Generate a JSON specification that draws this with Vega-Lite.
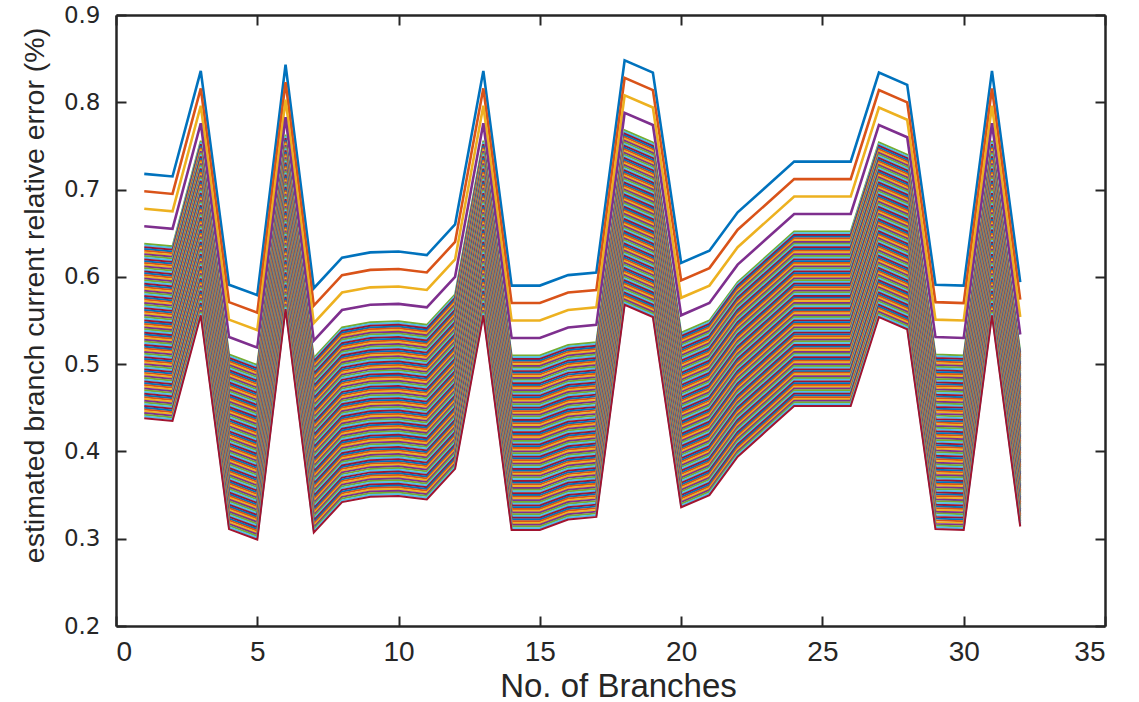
{
  "$schema": "https://vega.github.io/schema/vega-lite/v6.json",
  "width": 989,
  "height": 611,
  "autosize": {"type": "none"},
  "padding": {"left": 116, "top": 15, "right": 34, "bottom": 76},
  "background": "white",
  "config": {
    "view": {"stroke": null},
    "axis": {"grid": false, "domainColor": "#262626", "domainWidth": 2.5, "tickColor": "#262626", "tickWidth": 2, "labelColor": "#262626", "titleColor": "#262626", "titleFontWeight": "normal"}
  },
  "layer": [
    {
      "data": {"values": [
        {"k":0,"x":[1,2,3,4,5,6,7,8,9,10,11,12,13,14,15,16,17,18,19,20,21,22,23,24,25,26,27,28,29,30,31,32],"y":[0.718,0.715,0.836,0.591,0.579,0.843,0.587,0.622,0.628,0.629,0.625,0.660,0.836,0.590,0.590,0.602,0.605,0.848,0.834,0.616,0.630,0.674,0.703,0.732,0.732,0.732,0.834,0.820,0.591,0.590,0.836,0.594]},
        {"k":1,"x":[1,2,3,4,5,6,7,8,9,10,11,12,13,14,15,16,17,18,19,20,21,22,23,24,25,26,27,28,29,30,31,32],"y":[0.698,0.695,0.816,0.571,0.559,0.823,0.567,0.602,0.608,0.609,0.605,0.640,0.816,0.570,0.570,0.582,0.585,0.828,0.814,0.596,0.610,0.654,0.683,0.712,0.712,0.712,0.814,0.800,0.571,0.570,0.816,0.574]},
        {"k":2,"x":[1,2,3,4,5,6,7,8,9,10,11,12,13,14,15,16,17,18,19,20,21,22,23,24,25,26,27,28,29,30,31,32],"y":[0.678,0.675,0.796,0.551,0.539,0.803,0.547,0.582,0.588,0.589,0.585,0.620,0.796,0.550,0.550,0.562,0.565,0.808,0.794,0.576,0.590,0.634,0.663,0.692,0.692,0.692,0.794,0.780,0.551,0.550,0.796,0.554]},
        {"k":3,"x":[1,2,3,4,5,6,7,8,9,10,11,12,13,14,15,16,17,18,19,20,21,22,23,24,25,26,27,28,29,30,31,32],"y":[0.658,0.655,0.776,0.531,0.519,0.783,0.527,0.562,0.568,0.569,0.565,0.600,0.776,0.530,0.530,0.542,0.545,0.788,0.774,0.556,0.570,0.614,0.643,0.672,0.672,0.672,0.774,0.760,0.531,0.530,0.776,0.534]},
        {"k":4,"x":[1,2,3,4,5,6,7,8,9,10,11,12,13,14,15,16,17,18,19,20,21,22,23,24,25,26,27,28,29,30,31,32],"y":[0.638,0.635,0.756,0.511,0.499,0.763,0.507,0.542,0.548,0.549,0.545,0.580,0.756,0.510,0.510,0.522,0.525,0.768,0.754,0.536,0.550,0.594,0.623,0.652,0.652,0.652,0.754,0.740,0.511,0.510,0.756,0.514]},
        {"k":5,"x":[1,2,3,4,5,6,7,8,9,10,11,12,13,14,15,16,17,18,19,20,21,22,23,24,25,26,27,28,29,30,31,32],"y":[0.636,0.633,0.754,0.509,0.497,0.761,0.505,0.540,0.546,0.547,0.543,0.578,0.754,0.508,0.508,0.520,0.523,0.766,0.752,0.534,0.548,0.592,0.621,0.650,0.650,0.650,0.752,0.738,0.509,0.508,0.754,0.512]},
        {"k":6,"x":[1,2,3,4,5,6,7,8,9,10,11,12,13,14,15,16,17,18,19,20,21,22,23,24,25,26,27,28,29,30,31,32],"y":[0.634,0.631,0.752,0.507,0.495,0.759,0.503,0.538,0.544,0.545,0.541,0.576,0.752,0.506,0.506,0.518,0.521,0.764,0.750,0.532,0.546,0.590,0.619,0.648,0.648,0.648,0.750,0.736,0.507,0.506,0.752,0.510]},
        {"k":7,"x":[1,2,3,4,5,6,7,8,9,10,11,12,13,14,15,16,17,18,19,20,21,22,23,24,25,26,27,28,29,30,31,32],"y":[0.632,0.629,0.750,0.505,0.493,0.757,0.501,0.536,0.542,0.543,0.539,0.574,0.750,0.504,0.504,0.516,0.519,0.762,0.748,0.530,0.544,0.588,0.617,0.646,0.646,0.646,0.748,0.734,0.505,0.504,0.750,0.508]},
        {"k":8,"x":[1,2,3,4,5,6,7,8,9,10,11,12,13,14,15,16,17,18,19,20,21,22,23,24,25,26,27,28,29,30,31,32],"y":[0.630,0.627,0.748,0.503,0.491,0.755,0.499,0.534,0.540,0.541,0.537,0.572,0.748,0.502,0.502,0.514,0.517,0.760,0.746,0.528,0.542,0.586,0.615,0.644,0.644,0.644,0.746,0.732,0.503,0.502,0.748,0.506]},
        {"k":9,"x":[1,2,3,4,5,6,7,8,9,10,11,12,13,14,15,16,17,18,19,20,21,22,23,24,25,26,27,28,29,30,31,32],"y":[0.628,0.625,0.746,0.501,0.489,0.753,0.497,0.532,0.538,0.539,0.535,0.570,0.746,0.500,0.500,0.512,0.515,0.758,0.744,0.526,0.540,0.584,0.613,0.642,0.642,0.642,0.744,0.730,0.501,0.500,0.746,0.504]},
        {"k":10,"x":[1,2,3,4,5,6,7,8,9,10,11,12,13,14,15,16,17,18,19,20,21,22,23,24,25,26,27,28,29,30,31,32],"y":[0.626,0.623,0.744,0.499,0.487,0.751,0.495,0.530,0.536,0.537,0.533,0.568,0.744,0.498,0.498,0.510,0.513,0.756,0.742,0.524,0.538,0.582,0.611,0.640,0.640,0.640,0.742,0.728,0.499,0.498,0.744,0.502]},
        {"k":11,"x":[1,2,3,4,5,6,7,8,9,10,11,12,13,14,15,16,17,18,19,20,21,22,23,24,25,26,27,28,29,30,31,32],"y":[0.624,0.621,0.742,0.497,0.485,0.749,0.493,0.528,0.534,0.535,0.531,0.566,0.742,0.496,0.496,0.508,0.511,0.754,0.740,0.522,0.536,0.580,0.609,0.638,0.638,0.638,0.740,0.726,0.497,0.496,0.742,0.500]},
        {"k":12,"x":[1,2,3,4,5,6,7,8,9,10,11,12,13,14,15,16,17,18,19,20,21,22,23,24,25,26,27,28,29,30,31,32],"y":[0.622,0.619,0.740,0.495,0.483,0.747,0.491,0.526,0.532,0.533,0.529,0.564,0.740,0.494,0.494,0.506,0.509,0.752,0.738,0.520,0.534,0.578,0.607,0.636,0.636,0.636,0.738,0.724,0.495,0.494,0.740,0.498]},
        {"k":13,"x":[1,2,3,4,5,6,7,8,9,10,11,12,13,14,15,16,17,18,19,20,21,22,23,24,25,26,27,28,29,30,31,32],"y":[0.620,0.617,0.738,0.493,0.481,0.745,0.489,0.524,0.530,0.531,0.527,0.562,0.738,0.492,0.492,0.504,0.507,0.750,0.736,0.518,0.532,0.576,0.605,0.634,0.634,0.634,0.736,0.722,0.493,0.492,0.738,0.496]},
        {"k":14,"x":[1,2,3,4,5,6,7,8,9,10,11,12,13,14,15,16,17,18,19,20,21,22,23,24,25,26,27,28,29,30,31,32],"y":[0.618,0.615,0.736,0.491,0.479,0.743,0.487,0.522,0.528,0.529,0.525,0.560,0.736,0.490,0.490,0.502,0.505,0.748,0.734,0.516,0.530,0.574,0.603,0.632,0.632,0.632,0.734,0.720,0.491,0.490,0.736,0.494]},
        {"k":15,"x":[1,2,3,4,5,6,7,8,9,10,11,12,13,14,15,16,17,18,19,20,21,22,23,24,25,26,27,28,29,30,31,32],"y":[0.616,0.613,0.734,0.489,0.477,0.741,0.485,0.520,0.526,0.527,0.523,0.558,0.734,0.488,0.488,0.500,0.503,0.746,0.732,0.514,0.528,0.572,0.601,0.630,0.630,0.630,0.732,0.718,0.489,0.488,0.734,0.492]},
        {"k":16,"x":[1,2,3,4,5,6,7,8,9,10,11,12,13,14,15,16,17,18,19,20,21,22,23,24,25,26,27,28,29,30,31,32],"y":[0.614,0.611,0.732,0.487,0.475,0.739,0.483,0.518,0.524,0.525,0.521,0.556,0.732,0.486,0.486,0.498,0.501,0.744,0.730,0.512,0.526,0.570,0.599,0.628,0.628,0.628,0.730,0.716,0.487,0.486,0.732,0.490]},
        {"k":17,"x":[1,2,3,4,5,6,7,8,9,10,11,12,13,14,15,16,17,18,19,20,21,22,23,24,25,26,27,28,29,30,31,32],"y":[0.612,0.609,0.730,0.485,0.473,0.737,0.481,0.516,0.522,0.523,0.519,0.554,0.730,0.484,0.484,0.496,0.499,0.742,0.728,0.510,0.524,0.568,0.597,0.626,0.626,0.626,0.728,0.714,0.485,0.484,0.730,0.488]},
        {"k":18,"x":[1,2,3,4,5,6,7,8,9,10,11,12,13,14,15,16,17,18,19,20,21,22,23,24,25,26,27,28,29,30,31,32],"y":[0.610,0.607,0.728,0.483,0.471,0.735,0.479,0.514,0.520,0.521,0.517,0.552,0.728,0.482,0.482,0.494,0.497,0.740,0.726,0.508,0.522,0.566,0.595,0.624,0.624,0.624,0.726,0.712,0.483,0.482,0.728,0.486]},
        {"k":19,"x":[1,2,3,4,5,6,7,8,9,10,11,12,13,14,15,16,17,18,19,20,21,22,23,24,25,26,27,28,29,30,31,32],"y":[0.608,0.605,0.726,0.481,0.469,0.733,0.477,0.512,0.518,0.519,0.515,0.550,0.726,0.480,0.480,0.492,0.495,0.738,0.724,0.506,0.520,0.564,0.593,0.622,0.622,0.622,0.724,0.710,0.481,0.480,0.726,0.484]},
        {"k":20,"x":[1,2,3,4,5,6,7,8,9,10,11,12,13,14,15,16,17,18,19,20,21,22,23,24,25,26,27,28,29,30,31,32],"y":[0.606,0.603,0.724,0.479,0.467,0.731,0.475,0.510,0.516,0.517,0.513,0.548,0.724,0.478,0.478,0.490,0.493,0.736,0.722,0.504,0.518,0.562,0.591,0.620,0.620,0.620,0.722,0.708,0.479,0.478,0.724,0.482]},
        {"k":21,"x":[1,2,3,4,5,6,7,8,9,10,11,12,13,14,15,16,17,18,19,20,21,22,23,24,25,26,27,28,29,30,31,32],"y":[0.604,0.601,0.722,0.477,0.465,0.729,0.473,0.508,0.514,0.515,0.511,0.546,0.722,0.476,0.476,0.488,0.491,0.734,0.720,0.502,0.516,0.560,0.589,0.618,0.618,0.618,0.720,0.706,0.477,0.476,0.722,0.480]},
        {"k":22,"x":[1,2,3,4,5,6,7,8,9,10,11,12,13,14,15,16,17,18,19,20,21,22,23,24,25,26,27,28,29,30,31,32],"y":[0.602,0.599,0.720,0.475,0.463,0.727,0.471,0.506,0.512,0.513,0.509,0.544,0.720,0.474,0.474,0.486,0.489,0.732,0.718,0.500,0.514,0.558,0.587,0.616,0.616,0.616,0.718,0.704,0.475,0.474,0.720,0.478]},
        {"k":23,"x":[1,2,3,4,5,6,7,8,9,10,11,12,13,14,15,16,17,18,19,20,21,22,23,24,25,26,27,28,29,30,31,32],"y":[0.600,0.597,0.718,0.473,0.461,0.725,0.469,0.504,0.510,0.511,0.507,0.542,0.718,0.472,0.472,0.484,0.487,0.730,0.716,0.498,0.512,0.556,0.585,0.614,0.614,0.614,0.716,0.702,0.473,0.472,0.718,0.476]},
        {"k":24,"x":[1,2,3,4,5,6,7,8,9,10,11,12,13,14,15,16,17,18,19,20,21,22,23,24,25,26,27,28,29,30,31,32],"y":[0.598,0.595,0.716,0.471,0.459,0.723,0.467,0.502,0.508,0.509,0.505,0.540,0.716,0.470,0.470,0.482,0.485,0.728,0.714,0.496,0.510,0.554,0.583,0.612,0.612,0.612,0.714,0.700,0.471,0.470,0.716,0.474]},
        {"k":25,"x":[1,2,3,4,5,6,7,8,9,10,11,12,13,14,15,16,17,18,19,20,21,22,23,24,25,26,27,28,29,30,31,32],"y":[0.596,0.593,0.714,0.469,0.457,0.721,0.465,0.500,0.506,0.507,0.503,0.538,0.714,0.468,0.468,0.480,0.483,0.726,0.712,0.494,0.508,0.552,0.581,0.610,0.610,0.610,0.712,0.698,0.469,0.468,0.714,0.472]},
        {"k":26,"x":[1,2,3,4,5,6,7,8,9,10,11,12,13,14,15,16,17,18,19,20,21,22,23,24,25,26,27,28,29,30,31,32],"y":[0.594,0.591,0.712,0.467,0.455,0.719,0.463,0.498,0.504,0.505,0.501,0.536,0.712,0.466,0.466,0.478,0.481,0.724,0.710,0.492,0.506,0.550,0.579,0.608,0.608,0.608,0.710,0.696,0.467,0.466,0.712,0.470]},
        {"k":27,"x":[1,2,3,4,5,6,7,8,9,10,11,12,13,14,15,16,17,18,19,20,21,22,23,24,25,26,27,28,29,30,31,32],"y":[0.592,0.589,0.710,0.465,0.453,0.717,0.461,0.496,0.502,0.503,0.499,0.534,0.710,0.464,0.464,0.476,0.479,0.722,0.708,0.490,0.504,0.548,0.577,0.606,0.606,0.606,0.708,0.694,0.465,0.464,0.710,0.468]},
        {"k":28,"x":[1,2,3,4,5,6,7,8,9,10,11,12,13,14,15,16,17,18,19,20,21,22,23,24,25,26,27,28,29,30,31,32],"y":[0.590,0.587,0.708,0.463,0.451,0.715,0.459,0.494,0.500,0.501,0.497,0.532,0.708,0.462,0.462,0.474,0.477,0.720,0.706,0.488,0.502,0.546,0.575,0.604,0.604,0.604,0.706,0.692,0.463,0.462,0.708,0.466]},
        {"k":29,"x":[1,2,3,4,5,6,7,8,9,10,11,12,13,14,15,16,17,18,19,20,21,22,23,24,25,26,27,28,29,30,31,32],"y":[0.588,0.585,0.706,0.461,0.449,0.713,0.457,0.492,0.498,0.499,0.495,0.530,0.706,0.460,0.460,0.472,0.475,0.718,0.704,0.486,0.500,0.544,0.573,0.602,0.602,0.602,0.704,0.690,0.461,0.460,0.706,0.464]},
        {"k":30,"x":[1,2,3,4,5,6,7,8,9,10,11,12,13,14,15,16,17,18,19,20,21,22,23,24,25,26,27,28,29,30,31,32],"y":[0.586,0.583,0.704,0.459,0.447,0.711,0.455,0.490,0.496,0.497,0.493,0.528,0.704,0.458,0.458,0.470,0.473,0.716,0.702,0.484,0.498,0.542,0.571,0.600,0.600,0.600,0.702,0.688,0.459,0.458,0.704,0.462]},
        {"k":31,"x":[1,2,3,4,5,6,7,8,9,10,11,12,13,14,15,16,17,18,19,20,21,22,23,24,25,26,27,28,29,30,31,32],"y":[0.584,0.581,0.702,0.457,0.445,0.709,0.453,0.488,0.494,0.495,0.491,0.526,0.702,0.456,0.456,0.468,0.471,0.714,0.700,0.482,0.496,0.540,0.569,0.598,0.598,0.598,0.700,0.686,0.457,0.456,0.702,0.460]},
        {"k":32,"x":[1,2,3,4,5,6,7,8,9,10,11,12,13,14,15,16,17,18,19,20,21,22,23,24,25,26,27,28,29,30,31,32],"y":[0.582,0.579,0.700,0.455,0.443,0.707,0.451,0.486,0.492,0.493,0.489,0.524,0.700,0.454,0.454,0.466,0.469,0.712,0.698,0.480,0.494,0.538,0.567,0.596,0.596,0.596,0.698,0.684,0.455,0.454,0.700,0.458]},
        {"k":33,"x":[1,2,3,4,5,6,7,8,9,10,11,12,13,14,15,16,17,18,19,20,21,22,23,24,25,26,27,28,29,30,31,32],"y":[0.580,0.577,0.698,0.453,0.441,0.705,0.449,0.484,0.490,0.491,0.487,0.522,0.698,0.452,0.452,0.464,0.467,0.710,0.696,0.478,0.492,0.536,0.565,0.594,0.594,0.594,0.696,0.682,0.453,0.452,0.698,0.456]},
        {"k":34,"x":[1,2,3,4,5,6,7,8,9,10,11,12,13,14,15,16,17,18,19,20,21,22,23,24,25,26,27,28,29,30,31,32],"y":[0.578,0.575,0.696,0.451,0.439,0.703,0.447,0.482,0.488,0.489,0.485,0.520,0.696,0.450,0.450,0.462,0.465,0.708,0.694,0.476,0.490,0.534,0.563,0.592,0.592,0.592,0.694,0.680,0.451,0.450,0.696,0.454]},
        {"k":35,"x":[1,2,3,4,5,6,7,8,9,10,11,12,13,14,15,16,17,18,19,20,21,22,23,24,25,26,27,28,29,30,31,32],"y":[0.576,0.573,0.694,0.449,0.437,0.701,0.445,0.480,0.486,0.487,0.483,0.518,0.694,0.448,0.448,0.460,0.463,0.706,0.692,0.474,0.488,0.532,0.561,0.590,0.590,0.590,0.692,0.678,0.449,0.448,0.694,0.452]},
        {"k":36,"x":[1,2,3,4,5,6,7,8,9,10,11,12,13,14,15,16,17,18,19,20,21,22,23,24,25,26,27,28,29,30,31,32],"y":[0.574,0.571,0.692,0.447,0.435,0.699,0.443,0.478,0.484,0.485,0.481,0.516,0.692,0.446,0.446,0.458,0.461,0.704,0.690,0.472,0.486,0.530,0.559,0.588,0.588,0.588,0.690,0.676,0.447,0.446,0.692,0.450]},
        {"k":37,"x":[1,2,3,4,5,6,7,8,9,10,11,12,13,14,15,16,17,18,19,20,21,22,23,24,25,26,27,28,29,30,31,32],"y":[0.572,0.569,0.690,0.445,0.433,0.697,0.441,0.476,0.482,0.483,0.479,0.514,0.690,0.444,0.444,0.456,0.459,0.702,0.688,0.470,0.484,0.528,0.557,0.586,0.586,0.586,0.688,0.674,0.445,0.444,0.690,0.448]},
        {"k":38,"x":[1,2,3,4,5,6,7,8,9,10,11,12,13,14,15,16,17,18,19,20,21,22,23,24,25,26,27,28,29,30,31,32],"y":[0.570,0.567,0.688,0.443,0.431,0.695,0.439,0.474,0.480,0.481,0.477,0.512,0.688,0.442,0.442,0.454,0.457,0.700,0.686,0.468,0.482,0.526,0.555,0.584,0.584,0.584,0.686,0.672,0.443,0.442,0.688,0.446]},
        {"k":39,"x":[1,2,3,4,5,6,7,8,9,10,11,12,13,14,15,16,17,18,19,20,21,22,23,24,25,26,27,28,29,30,31,32],"y":[0.568,0.565,0.686,0.441,0.429,0.693,0.437,0.472,0.478,0.479,0.475,0.510,0.686,0.440,0.440,0.452,0.455,0.698,0.684,0.466,0.480,0.524,0.553,0.582,0.582,0.582,0.684,0.670,0.441,0.440,0.686,0.444]},
        {"k":40,"x":[1,2,3,4,5,6,7,8,9,10,11,12,13,14,15,16,17,18,19,20,21,22,23,24,25,26,27,28,29,30,31,32],"y":[0.566,0.563,0.684,0.439,0.427,0.691,0.435,0.470,0.476,0.477,0.473,0.508,0.684,0.438,0.438,0.450,0.453,0.696,0.682,0.464,0.478,0.522,0.551,0.580,0.580,0.580,0.682,0.668,0.439,0.438,0.684,0.442]},
        {"k":41,"x":[1,2,3,4,5,6,7,8,9,10,11,12,13,14,15,16,17,18,19,20,21,22,23,24,25,26,27,28,29,30,31,32],"y":[0.564,0.561,0.682,0.437,0.425,0.689,0.433,0.468,0.474,0.475,0.471,0.506,0.682,0.436,0.436,0.448,0.451,0.694,0.680,0.462,0.476,0.520,0.549,0.578,0.578,0.578,0.680,0.666,0.437,0.436,0.682,0.440]},
        {"k":42,"x":[1,2,3,4,5,6,7,8,9,10,11,12,13,14,15,16,17,18,19,20,21,22,23,24,25,26,27,28,29,30,31,32],"y":[0.562,0.559,0.680,0.435,0.423,0.687,0.431,0.466,0.472,0.473,0.469,0.504,0.680,0.434,0.434,0.446,0.449,0.692,0.678,0.460,0.474,0.518,0.547,0.576,0.576,0.576,0.678,0.664,0.435,0.434,0.680,0.438]},
        {"k":43,"x":[1,2,3,4,5,6,7,8,9,10,11,12,13,14,15,16,17,18,19,20,21,22,23,24,25,26,27,28,29,30,31,32],"y":[0.560,0.557,0.678,0.433,0.421,0.685,0.429,0.464,0.470,0.471,0.467,0.502,0.678,0.432,0.432,0.444,0.447,0.690,0.676,0.458,0.472,0.516,0.545,0.574,0.574,0.574,0.676,0.662,0.433,0.432,0.678,0.436]},
        {"k":44,"x":[1,2,3,4,5,6,7,8,9,10,11,12,13,14,15,16,17,18,19,20,21,22,23,24,25,26,27,28,29,30,31,32],"y":[0.558,0.555,0.676,0.431,0.419,0.683,0.427,0.462,0.468,0.469,0.465,0.500,0.676,0.430,0.430,0.442,0.445,0.688,0.674,0.456,0.470,0.514,0.543,0.572,0.572,0.572,0.674,0.660,0.431,0.430,0.676,0.434]},
        {"k":45,"x":[1,2,3,4,5,6,7,8,9,10,11,12,13,14,15,16,17,18,19,20,21,22,23,24,25,26,27,28,29,30,31,32],"y":[0.556,0.553,0.674,0.429,0.417,0.681,0.425,0.460,0.466,0.467,0.463,0.498,0.674,0.428,0.428,0.440,0.443,0.686,0.672,0.454,0.468,0.512,0.541,0.570,0.570,0.570,0.672,0.658,0.429,0.428,0.674,0.432]},
        {"k":46,"x":[1,2,3,4,5,6,7,8,9,10,11,12,13,14,15,16,17,18,19,20,21,22,23,24,25,26,27,28,29,30,31,32],"y":[0.554,0.551,0.672,0.427,0.415,0.679,0.423,0.458,0.464,0.465,0.461,0.496,0.672,0.426,0.426,0.438,0.441,0.684,0.670,0.452,0.466,0.510,0.539,0.568,0.568,0.568,0.670,0.656,0.427,0.426,0.672,0.430]},
        {"k":47,"x":[1,2,3,4,5,6,7,8,9,10,11,12,13,14,15,16,17,18,19,20,21,22,23,24,25,26,27,28,29,30,31,32],"y":[0.552,0.549,0.670,0.425,0.413,0.677,0.421,0.456,0.462,0.463,0.459,0.494,0.670,0.424,0.424,0.436,0.439,0.682,0.668,0.450,0.464,0.508,0.537,0.566,0.566,0.566,0.668,0.654,0.425,0.424,0.670,0.428]},
        {"k":48,"x":[1,2,3,4,5,6,7,8,9,10,11,12,13,14,15,16,17,18,19,20,21,22,23,24,25,26,27,28,29,30,31,32],"y":[0.550,0.547,0.668,0.423,0.411,0.675,0.419,0.454,0.460,0.461,0.457,0.492,0.668,0.422,0.422,0.434,0.437,0.680,0.666,0.448,0.462,0.506,0.535,0.564,0.564,0.564,0.666,0.652,0.423,0.422,0.668,0.426]},
        {"k":49,"x":[1,2,3,4,5,6,7,8,9,10,11,12,13,14,15,16,17,18,19,20,21,22,23,24,25,26,27,28,29,30,31,32],"y":[0.548,0.545,0.666,0.421,0.409,0.673,0.417,0.452,0.458,0.459,0.455,0.490,0.666,0.420,0.420,0.432,0.435,0.678,0.664,0.446,0.460,0.504,0.533,0.562,0.562,0.562,0.664,0.650,0.421,0.420,0.666,0.424]},
        {"k":50,"x":[1,2,3,4,5,6,7,8,9,10,11,12,13,14,15,16,17,18,19,20,21,22,23,24,25,26,27,28,29,30,31,32],"y":[0.546,0.543,0.664,0.419,0.407,0.671,0.415,0.450,0.456,0.457,0.453,0.488,0.664,0.418,0.418,0.430,0.433,0.676,0.662,0.444,0.458,0.502,0.531,0.560,0.560,0.560,0.662,0.648,0.419,0.418,0.664,0.422]},
        {"k":51,"x":[1,2,3,4,5,6,7,8,9,10,11,12,13,14,15,16,17,18,19,20,21,22,23,24,25,26,27,28,29,30,31,32],"y":[0.544,0.541,0.662,0.417,0.405,0.669,0.413,0.448,0.454,0.455,0.451,0.486,0.662,0.416,0.416,0.428,0.431,0.674,0.660,0.442,0.456,0.500,0.529,0.558,0.558,0.558,0.660,0.646,0.417,0.416,0.662,0.420]},
        {"k":52,"x":[1,2,3,4,5,6,7,8,9,10,11,12,13,14,15,16,17,18,19,20,21,22,23,24,25,26,27,28,29,30,31,32],"y":[0.542,0.539,0.660,0.415,0.403,0.667,0.411,0.446,0.452,0.453,0.449,0.484,0.660,0.414,0.414,0.426,0.429,0.672,0.658,0.440,0.454,0.498,0.527,0.556,0.556,0.556,0.658,0.644,0.415,0.414,0.660,0.418]},
        {"k":53,"x":[1,2,3,4,5,6,7,8,9,10,11,12,13,14,15,16,17,18,19,20,21,22,23,24,25,26,27,28,29,30,31,32],"y":[0.540,0.537,0.658,0.413,0.401,0.665,0.409,0.444,0.450,0.451,0.447,0.482,0.658,0.412,0.412,0.424,0.427,0.670,0.656,0.438,0.452,0.496,0.525,0.554,0.554,0.554,0.656,0.642,0.413,0.412,0.658,0.416]},
        {"k":54,"x":[1,2,3,4,5,6,7,8,9,10,11,12,13,14,15,16,17,18,19,20,21,22,23,24,25,26,27,28,29,30,31,32],"y":[0.538,0.535,0.656,0.411,0.399,0.663,0.407,0.442,0.448,0.449,0.445,0.480,0.656,0.410,0.410,0.422,0.425,0.668,0.654,0.436,0.450,0.494,0.523,0.552,0.552,0.552,0.654,0.640,0.411,0.410,0.656,0.414]},
        {"k":55,"x":[1,2,3,4,5,6,7,8,9,10,11,12,13,14,15,16,17,18,19,20,21,22,23,24,25,26,27,28,29,30,31,32],"y":[0.536,0.533,0.654,0.409,0.397,0.661,0.405,0.440,0.446,0.447,0.443,0.478,0.654,0.408,0.408,0.420,0.423,0.666,0.652,0.434,0.448,0.492,0.521,0.550,0.550,0.550,0.652,0.638,0.409,0.408,0.654,0.412]},
        {"k":56,"x":[1,2,3,4,5,6,7,8,9,10,11,12,13,14,15,16,17,18,19,20,21,22,23,24,25,26,27,28,29,30,31,32],"y":[0.534,0.531,0.652,0.407,0.395,0.659,0.403,0.438,0.444,0.445,0.441,0.476,0.652,0.406,0.406,0.418,0.421,0.664,0.650,0.432,0.446,0.490,0.519,0.548,0.548,0.548,0.650,0.636,0.407,0.406,0.652,0.410]},
        {"k":57,"x":[1,2,3,4,5,6,7,8,9,10,11,12,13,14,15,16,17,18,19,20,21,22,23,24,25,26,27,28,29,30,31,32],"y":[0.532,0.529,0.650,0.405,0.393,0.657,0.401,0.436,0.442,0.443,0.439,0.474,0.650,0.404,0.404,0.416,0.419,0.662,0.648,0.430,0.444,0.488,0.517,0.546,0.546,0.546,0.648,0.634,0.405,0.404,0.650,0.408]},
        {"k":58,"x":[1,2,3,4,5,6,7,8,9,10,11,12,13,14,15,16,17,18,19,20,21,22,23,24,25,26,27,28,29,30,31,32],"y":[0.530,0.527,0.648,0.403,0.391,0.655,0.399,0.434,0.440,0.441,0.437,0.472,0.648,0.402,0.402,0.414,0.417,0.660,0.646,0.428,0.442,0.486,0.515,0.544,0.544,0.544,0.646,0.632,0.403,0.402,0.648,0.406]},
        {"k":59,"x":[1,2,3,4,5,6,7,8,9,10,11,12,13,14,15,16,17,18,19,20,21,22,23,24,25,26,27,28,29,30,31,32],"y":[0.528,0.525,0.646,0.401,0.389,0.653,0.397,0.432,0.438,0.439,0.435,0.470,0.646,0.400,0.400,0.412,0.415,0.658,0.644,0.426,0.440,0.484,0.513,0.542,0.542,0.542,0.644,0.630,0.401,0.400,0.646,0.404]},
        {"k":60,"x":[1,2,3,4,5,6,7,8,9,10,11,12,13,14,15,16,17,18,19,20,21,22,23,24,25,26,27,28,29,30,31,32],"y":[0.526,0.523,0.644,0.399,0.387,0.651,0.395,0.430,0.436,0.437,0.433,0.468,0.644,0.398,0.398,0.410,0.413,0.656,0.642,0.424,0.438,0.482,0.511,0.540,0.540,0.540,0.642,0.628,0.399,0.398,0.644,0.402]},
        {"k":61,"x":[1,2,3,4,5,6,7,8,9,10,11,12,13,14,15,16,17,18,19,20,21,22,23,24,25,26,27,28,29,30,31,32],"y":[0.524,0.521,0.642,0.397,0.385,0.649,0.393,0.428,0.434,0.435,0.431,0.466,0.642,0.396,0.396,0.408,0.411,0.654,0.640,0.422,0.436,0.480,0.509,0.538,0.538,0.538,0.640,0.626,0.397,0.396,0.642,0.400]},
        {"k":62,"x":[1,2,3,4,5,6,7,8,9,10,11,12,13,14,15,16,17,18,19,20,21,22,23,24,25,26,27,28,29,30,31,32],"y":[0.522,0.519,0.640,0.395,0.383,0.647,0.391,0.426,0.432,0.433,0.429,0.464,0.640,0.394,0.394,0.406,0.409,0.652,0.638,0.420,0.434,0.478,0.507,0.536,0.536,0.536,0.638,0.624,0.395,0.394,0.640,0.398]},
        {"k":63,"x":[1,2,3,4,5,6,7,8,9,10,11,12,13,14,15,16,17,18,19,20,21,22,23,24,25,26,27,28,29,30,31,32],"y":[0.520,0.517,0.638,0.393,0.381,0.645,0.389,0.424,0.430,0.431,0.427,0.462,0.638,0.392,0.392,0.404,0.407,0.650,0.636,0.418,0.432,0.476,0.505,0.534,0.534,0.534,0.636,0.622,0.393,0.392,0.638,0.396]},
        {"k":64,"x":[1,2,3,4,5,6,7,8,9,10,11,12,13,14,15,16,17,18,19,20,21,22,23,24,25,26,27,28,29,30,31,32],"y":[0.518,0.515,0.636,0.391,0.379,0.643,0.387,0.422,0.428,0.429,0.425,0.460,0.636,0.390,0.390,0.402,0.405,0.648,0.634,0.416,0.430,0.474,0.503,0.532,0.532,0.532,0.634,0.620,0.391,0.390,0.636,0.394]},
        {"k":65,"x":[1,2,3,4,5,6,7,8,9,10,11,12,13,14,15,16,17,18,19,20,21,22,23,24,25,26,27,28,29,30,31,32],"y":[0.516,0.513,0.634,0.389,0.377,0.641,0.385,0.420,0.426,0.427,0.423,0.458,0.634,0.388,0.388,0.400,0.403,0.646,0.632,0.414,0.428,0.472,0.501,0.530,0.530,0.530,0.632,0.618,0.389,0.388,0.634,0.392]},
        {"k":66,"x":[1,2,3,4,5,6,7,8,9,10,11,12,13,14,15,16,17,18,19,20,21,22,23,24,25,26,27,28,29,30,31,32],"y":[0.514,0.511,0.632,0.387,0.375,0.639,0.383,0.418,0.424,0.425,0.421,0.456,0.632,0.386,0.386,0.398,0.401,0.644,0.630,0.412,0.426,0.470,0.499,0.528,0.528,0.528,0.630,0.616,0.387,0.386,0.632,0.390]},
        {"k":67,"x":[1,2,3,4,5,6,7,8,9,10,11,12,13,14,15,16,17,18,19,20,21,22,23,24,25,26,27,28,29,30,31,32],"y":[0.512,0.509,0.630,0.385,0.373,0.637,0.381,0.416,0.422,0.423,0.419,0.454,0.630,0.384,0.384,0.396,0.399,0.642,0.628,0.410,0.424,0.468,0.497,0.526,0.526,0.526,0.628,0.614,0.385,0.384,0.630,0.388]},
        {"k":68,"x":[1,2,3,4,5,6,7,8,9,10,11,12,13,14,15,16,17,18,19,20,21,22,23,24,25,26,27,28,29,30,31,32],"y":[0.510,0.507,0.628,0.383,0.371,0.635,0.379,0.414,0.420,0.421,0.417,0.452,0.628,0.382,0.382,0.394,0.397,0.640,0.626,0.408,0.422,0.466,0.495,0.524,0.524,0.524,0.626,0.612,0.383,0.382,0.628,0.386]},
        {"k":69,"x":[1,2,3,4,5,6,7,8,9,10,11,12,13,14,15,16,17,18,19,20,21,22,23,24,25,26,27,28,29,30,31,32],"y":[0.508,0.505,0.626,0.381,0.369,0.633,0.377,0.412,0.418,0.419,0.415,0.450,0.626,0.380,0.380,0.392,0.395,0.638,0.624,0.406,0.420,0.464,0.493,0.522,0.522,0.522,0.624,0.610,0.381,0.380,0.626,0.384]},
        {"k":70,"x":[1,2,3,4,5,6,7,8,9,10,11,12,13,14,15,16,17,18,19,20,21,22,23,24,25,26,27,28,29,30,31,32],"y":[0.506,0.503,0.624,0.379,0.367,0.631,0.375,0.410,0.416,0.417,0.413,0.448,0.624,0.378,0.378,0.390,0.393,0.636,0.622,0.404,0.418,0.462,0.491,0.520,0.520,0.520,0.622,0.608,0.379,0.378,0.624,0.382]},
        {"k":71,"x":[1,2,3,4,5,6,7,8,9,10,11,12,13,14,15,16,17,18,19,20,21,22,23,24,25,26,27,28,29,30,31,32],"y":[0.504,0.501,0.622,0.377,0.365,0.629,0.373,0.408,0.414,0.415,0.411,0.446,0.622,0.376,0.376,0.388,0.391,0.634,0.620,0.402,0.416,0.460,0.489,0.518,0.518,0.518,0.620,0.606,0.377,0.376,0.622,0.380]},
        {"k":72,"x":[1,2,3,4,5,6,7,8,9,10,11,12,13,14,15,16,17,18,19,20,21,22,23,24,25,26,27,28,29,30,31,32],"y":[0.502,0.499,0.620,0.375,0.363,0.627,0.371,0.406,0.412,0.413,0.409,0.444,0.620,0.374,0.374,0.386,0.389,0.632,0.618,0.400,0.414,0.458,0.487,0.516,0.516,0.516,0.618,0.604,0.375,0.374,0.620,0.378]},
        {"k":73,"x":[1,2,3,4,5,6,7,8,9,10,11,12,13,14,15,16,17,18,19,20,21,22,23,24,25,26,27,28,29,30,31,32],"y":[0.500,0.497,0.618,0.373,0.361,0.625,0.369,0.404,0.410,0.411,0.407,0.442,0.618,0.372,0.372,0.384,0.387,0.630,0.616,0.398,0.412,0.456,0.485,0.514,0.514,0.514,0.616,0.602,0.373,0.372,0.618,0.376]},
        {"k":74,"x":[1,2,3,4,5,6,7,8,9,10,11,12,13,14,15,16,17,18,19,20,21,22,23,24,25,26,27,28,29,30,31,32],"y":[0.498,0.495,0.616,0.371,0.359,0.623,0.367,0.402,0.408,0.409,0.405,0.440,0.616,0.370,0.370,0.382,0.385,0.628,0.614,0.396,0.410,0.454,0.483,0.512,0.512,0.512,0.614,0.600,0.371,0.370,0.616,0.374]},
        {"k":75,"x":[1,2,3,4,5,6,7,8,9,10,11,12,13,14,15,16,17,18,19,20,21,22,23,24,25,26,27,28,29,30,31,32],"y":[0.496,0.493,0.614,0.369,0.357,0.621,0.365,0.400,0.406,0.407,0.403,0.438,0.614,0.368,0.368,0.380,0.383,0.626,0.612,0.394,0.408,0.452,0.481,0.510,0.510,0.510,0.612,0.598,0.369,0.368,0.614,0.372]},
        {"k":76,"x":[1,2,3,4,5,6,7,8,9,10,11,12,13,14,15,16,17,18,19,20,21,22,23,24,25,26,27,28,29,30,31,32],"y":[0.494,0.491,0.612,0.367,0.355,0.619,0.363,0.398,0.404,0.405,0.401,0.436,0.612,0.366,0.366,0.378,0.381,0.624,0.610,0.392,0.406,0.450,0.479,0.508,0.508,0.508,0.610,0.596,0.367,0.366,0.612,0.370]},
        {"k":77,"x":[1,2,3,4,5,6,7,8,9,10,11,12,13,14,15,16,17,18,19,20,21,22,23,24,25,26,27,28,29,30,31,32],"y":[0.492,0.489,0.610,0.365,0.353,0.617,0.361,0.396,0.402,0.403,0.399,0.434,0.610,0.364,0.364,0.376,0.379,0.622,0.608,0.390,0.404,0.448,0.477,0.506,0.506,0.506,0.608,0.594,0.365,0.364,0.610,0.368]},
        {"k":78,"x":[1,2,3,4,5,6,7,8,9,10,11,12,13,14,15,16,17,18,19,20,21,22,23,24,25,26,27,28,29,30,31,32],"y":[0.490,0.487,0.608,0.363,0.351,0.615,0.359,0.394,0.400,0.401,0.397,0.432,0.608,0.362,0.362,0.374,0.377,0.620,0.606,0.388,0.402,0.446,0.475,0.504,0.504,0.504,0.606,0.592,0.363,0.362,0.608,0.366]},
        {"k":79,"x":[1,2,3,4,5,6,7,8,9,10,11,12,13,14,15,16,17,18,19,20,21,22,23,24,25,26,27,28,29,30,31,32],"y":[0.488,0.485,0.606,0.361,0.349,0.613,0.357,0.392,0.398,0.399,0.395,0.430,0.606,0.360,0.360,0.372,0.375,0.618,0.604,0.386,0.400,0.444,0.473,0.502,0.502,0.502,0.604,0.590,0.361,0.360,0.606,0.364]},
        {"k":80,"x":[1,2,3,4,5,6,7,8,9,10,11,12,13,14,15,16,17,18,19,20,21,22,23,24,25,26,27,28,29,30,31,32],"y":[0.486,0.483,0.604,0.359,0.347,0.611,0.355,0.390,0.396,0.397,0.393,0.428,0.604,0.358,0.358,0.370,0.373,0.616,0.602,0.384,0.398,0.442,0.471,0.500,0.500,0.500,0.602,0.588,0.359,0.358,0.604,0.362]},
        {"k":81,"x":[1,2,3,4,5,6,7,8,9,10,11,12,13,14,15,16,17,18,19,20,21,22,23,24,25,26,27,28,29,30,31,32],"y":[0.484,0.481,0.602,0.357,0.345,0.609,0.353,0.388,0.394,0.395,0.391,0.426,0.602,0.356,0.356,0.368,0.371,0.614,0.600,0.382,0.396,0.440,0.469,0.498,0.498,0.498,0.600,0.586,0.357,0.356,0.602,0.360]},
        {"k":82,"x":[1,2,3,4,5,6,7,8,9,10,11,12,13,14,15,16,17,18,19,20,21,22,23,24,25,26,27,28,29,30,31,32],"y":[0.482,0.479,0.600,0.355,0.343,0.607,0.351,0.386,0.392,0.393,0.389,0.424,0.600,0.354,0.354,0.366,0.369,0.612,0.598,0.380,0.394,0.438,0.467,0.496,0.496,0.496,0.598,0.584,0.355,0.354,0.600,0.358]},
        {"k":83,"x":[1,2,3,4,5,6,7,8,9,10,11,12,13,14,15,16,17,18,19,20,21,22,23,24,25,26,27,28,29,30,31,32],"y":[0.480,0.477,0.598,0.353,0.341,0.605,0.349,0.384,0.390,0.391,0.387,0.422,0.598,0.352,0.352,0.364,0.367,0.610,0.596,0.378,0.392,0.436,0.465,0.494,0.494,0.494,0.596,0.582,0.353,0.352,0.598,0.356]},
        {"k":84,"x":[1,2,3,4,5,6,7,8,9,10,11,12,13,14,15,16,17,18,19,20,21,22,23,24,25,26,27,28,29,30,31,32],"y":[0.478,0.475,0.596,0.351,0.339,0.603,0.347,0.382,0.388,0.389,0.385,0.420,0.596,0.350,0.350,0.362,0.365,0.608,0.594,0.376,0.390,0.434,0.463,0.492,0.492,0.492,0.594,0.580,0.351,0.350,0.596,0.354]},
        {"k":85,"x":[1,2,3,4,5,6,7,8,9,10,11,12,13,14,15,16,17,18,19,20,21,22,23,24,25,26,27,28,29,30,31,32],"y":[0.476,0.473,0.594,0.349,0.337,0.601,0.345,0.380,0.386,0.387,0.383,0.418,0.594,0.348,0.348,0.360,0.363,0.606,0.592,0.374,0.388,0.432,0.461,0.490,0.490,0.490,0.592,0.578,0.349,0.348,0.594,0.352]},
        {"k":86,"x":[1,2,3,4,5,6,7,8,9,10,11,12,13,14,15,16,17,18,19,20,21,22,23,24,25,26,27,28,29,30,31,32],"y":[0.474,0.471,0.592,0.347,0.335,0.599,0.343,0.378,0.384,0.385,0.381,0.416,0.592,0.346,0.346,0.358,0.361,0.604,0.590,0.372,0.386,0.430,0.459,0.488,0.488,0.488,0.590,0.576,0.347,0.346,0.592,0.350]},
        {"k":87,"x":[1,2,3,4,5,6,7,8,9,10,11,12,13,14,15,16,17,18,19,20,21,22,23,24,25,26,27,28,29,30,31,32],"y":[0.472,0.469,0.590,0.345,0.333,0.597,0.341,0.376,0.382,0.383,0.379,0.414,0.590,0.344,0.344,0.356,0.359,0.602,0.588,0.370,0.384,0.428,0.457,0.486,0.486,0.486,0.588,0.574,0.345,0.344,0.590,0.348]},
        {"k":88,"x":[1,2,3,4,5,6,7,8,9,10,11,12,13,14,15,16,17,18,19,20,21,22,23,24,25,26,27,28,29,30,31,32],"y":[0.470,0.467,0.588,0.343,0.331,0.595,0.339,0.374,0.380,0.381,0.377,0.412,0.588,0.342,0.342,0.354,0.357,0.600,0.586,0.368,0.382,0.426,0.455,0.484,0.484,0.484,0.586,0.572,0.343,0.342,0.588,0.346]},
        {"k":89,"x":[1,2,3,4,5,6,7,8,9,10,11,12,13,14,15,16,17,18,19,20,21,22,23,24,25,26,27,28,29,30,31,32],"y":[0.468,0.465,0.586,0.341,0.329,0.593,0.337,0.372,0.378,0.379,0.375,0.410,0.586,0.340,0.340,0.352,0.355,0.598,0.584,0.366,0.380,0.424,0.453,0.482,0.482,0.482,0.584,0.570,0.341,0.340,0.586,0.344]},
        {"k":90,"x":[1,2,3,4,5,6,7,8,9,10,11,12,13,14,15,16,17,18,19,20,21,22,23,24,25,26,27,28,29,30,31,32],"y":[0.466,0.463,0.584,0.339,0.327,0.591,0.335,0.370,0.376,0.377,0.373,0.408,0.584,0.338,0.338,0.350,0.353,0.596,0.582,0.364,0.378,0.422,0.451,0.480,0.480,0.480,0.582,0.568,0.339,0.338,0.584,0.342]},
        {"k":91,"x":[1,2,3,4,5,6,7,8,9,10,11,12,13,14,15,16,17,18,19,20,21,22,23,24,25,26,27,28,29,30,31,32],"y":[0.464,0.461,0.582,0.337,0.325,0.589,0.333,0.368,0.374,0.375,0.371,0.406,0.582,0.336,0.336,0.348,0.351,0.594,0.580,0.362,0.376,0.420,0.449,0.478,0.478,0.478,0.580,0.566,0.337,0.336,0.582,0.340]},
        {"k":92,"x":[1,2,3,4,5,6,7,8,9,10,11,12,13,14,15,16,17,18,19,20,21,22,23,24,25,26,27,28,29,30,31,32],"y":[0.462,0.459,0.580,0.335,0.323,0.587,0.331,0.366,0.372,0.373,0.369,0.404,0.580,0.334,0.334,0.346,0.349,0.592,0.578,0.360,0.374,0.418,0.447,0.476,0.476,0.476,0.578,0.564,0.335,0.334,0.580,0.338]},
        {"k":93,"x":[1,2,3,4,5,6,7,8,9,10,11,12,13,14,15,16,17,18,19,20,21,22,23,24,25,26,27,28,29,30,31,32],"y":[0.460,0.457,0.578,0.333,0.321,0.585,0.329,0.364,0.370,0.371,0.367,0.402,0.578,0.332,0.332,0.344,0.347,0.590,0.576,0.358,0.372,0.416,0.445,0.474,0.474,0.474,0.576,0.562,0.333,0.332,0.578,0.336]},
        {"k":94,"x":[1,2,3,4,5,6,7,8,9,10,11,12,13,14,15,16,17,18,19,20,21,22,23,24,25,26,27,28,29,30,31,32],"y":[0.458,0.455,0.576,0.331,0.319,0.583,0.327,0.362,0.368,0.369,0.365,0.400,0.576,0.330,0.330,0.342,0.345,0.588,0.574,0.356,0.370,0.414,0.443,0.472,0.472,0.472,0.574,0.560,0.331,0.330,0.576,0.334]},
        {"k":95,"x":[1,2,3,4,5,6,7,8,9,10,11,12,13,14,15,16,17,18,19,20,21,22,23,24,25,26,27,28,29,30,31,32],"y":[0.456,0.453,0.574,0.329,0.317,0.581,0.325,0.360,0.366,0.367,0.363,0.398,0.574,0.328,0.328,0.340,0.343,0.586,0.572,0.354,0.368,0.412,0.441,0.470,0.470,0.470,0.572,0.558,0.329,0.328,0.574,0.332]},
        {"k":96,"x":[1,2,3,4,5,6,7,8,9,10,11,12,13,14,15,16,17,18,19,20,21,22,23,24,25,26,27,28,29,30,31,32],"y":[0.454,0.451,0.572,0.327,0.315,0.579,0.323,0.358,0.364,0.365,0.361,0.396,0.572,0.326,0.326,0.338,0.341,0.584,0.570,0.352,0.366,0.410,0.439,0.468,0.468,0.468,0.570,0.556,0.327,0.326,0.572,0.330]},
        {"k":97,"x":[1,2,3,4,5,6,7,8,9,10,11,12,13,14,15,16,17,18,19,20,21,22,23,24,25,26,27,28,29,30,31,32],"y":[0.452,0.449,0.570,0.325,0.313,0.577,0.321,0.356,0.362,0.363,0.359,0.394,0.570,0.324,0.324,0.336,0.339,0.582,0.568,0.350,0.364,0.408,0.437,0.466,0.466,0.466,0.568,0.554,0.325,0.324,0.570,0.328]},
        {"k":98,"x":[1,2,3,4,5,6,7,8,9,10,11,12,13,14,15,16,17,18,19,20,21,22,23,24,25,26,27,28,29,30,31,32],"y":[0.450,0.447,0.568,0.323,0.311,0.575,0.319,0.354,0.360,0.361,0.357,0.392,0.568,0.322,0.322,0.334,0.337,0.580,0.566,0.348,0.362,0.406,0.435,0.464,0.464,0.464,0.566,0.552,0.323,0.322,0.568,0.326]},
        {"k":99,"x":[1,2,3,4,5,6,7,8,9,10,11,12,13,14,15,16,17,18,19,20,21,22,23,24,25,26,27,28,29,30,31,32],"y":[0.448,0.445,0.566,0.321,0.309,0.573,0.317,0.352,0.358,0.359,0.355,0.390,0.566,0.320,0.320,0.332,0.335,0.578,0.564,0.346,0.360,0.404,0.433,0.462,0.462,0.462,0.564,0.550,0.321,0.320,0.566,0.324]},
        {"k":100,"x":[1,2,3,4,5,6,7,8,9,10,11,12,13,14,15,16,17,18,19,20,21,22,23,24,25,26,27,28,29,30,31,32],"y":[0.446,0.443,0.564,0.319,0.307,0.571,0.315,0.350,0.356,0.357,0.353,0.388,0.564,0.318,0.318,0.330,0.333,0.576,0.562,0.344,0.358,0.402,0.431,0.460,0.460,0.460,0.562,0.548,0.319,0.318,0.564,0.322]},
        {"k":101,"x":[1,2,3,4,5,6,7,8,9,10,11,12,13,14,15,16,17,18,19,20,21,22,23,24,25,26,27,28,29,30,31,32],"y":[0.444,0.441,0.562,0.317,0.305,0.569,0.313,0.348,0.354,0.355,0.351,0.386,0.562,0.316,0.316,0.328,0.331,0.574,0.560,0.342,0.356,0.400,0.429,0.458,0.458,0.458,0.560,0.546,0.317,0.316,0.562,0.320]},
        {"k":102,"x":[1,2,3,4,5,6,7,8,9,10,11,12,13,14,15,16,17,18,19,20,21,22,23,24,25,26,27,28,29,30,31,32],"y":[0.442,0.439,0.560,0.315,0.303,0.567,0.311,0.346,0.352,0.353,0.349,0.384,0.560,0.314,0.314,0.326,0.329,0.572,0.558,0.340,0.354,0.398,0.427,0.456,0.456,0.456,0.558,0.544,0.315,0.314,0.560,0.318]},
        {"k":103,"x":[1,2,3,4,5,6,7,8,9,10,11,12,13,14,15,16,17,18,19,20,21,22,23,24,25,26,27,28,29,30,31,32],"y":[0.440,0.437,0.558,0.313,0.301,0.565,0.309,0.344,0.350,0.351,0.347,0.382,0.558,0.312,0.312,0.324,0.327,0.570,0.556,0.338,0.352,0.396,0.425,0.454,0.454,0.454,0.556,0.542,0.313,0.312,0.558,0.316]},
        {"k":104,"x":[1,2,3,4,5,6,7,8,9,10,11,12,13,14,15,16,17,18,19,20,21,22,23,24,25,26,27,28,29,30,31,32],"y":[0.438,0.435,0.556,0.311,0.299,0.563,0.307,0.342,0.348,0.349,0.345,0.380,0.556,0.310,0.310,0.322,0.325,0.568,0.554,0.336,0.350,0.394,0.423,0.452,0.452,0.452,0.554,0.540,0.311,0.310,0.556,0.314]}
      ]},
      "transform": [{"flatten": ["x", "y"]}],
      "mark": {"type": "line", "clip": true},
      "encoding": {
        "x": {"field": "x", "type": "quantitative", "scale": {"domain": [0, 35], "nice": false, "zero": false},
          "axis": {"orient": "bottom", "values": [0,5,10,15,20,25,30,35], "tickSize": -10, "labelPadding": 22, "labelFont": "Liberation Sans", "labelFontSize": 28, "title": "No. of Branches", "titleFont": "Liberation Sans", "titleFontSize": 33, "titleX": 502, "titleY": 70, "titleBaseline": "alphabetic", "titleAnchor": "middle"}},
        "y": {"field": "y", "type": "quantitative", "scale": {"domain": [0.2, 0.9], "nice": false, "zero": false},
          "axis": {"orient": "left", "values": [0.2,0.3,0.4,0.5,0.6,0.7,0.8,0.9], "format": ".1f", "tickSize": -10, "labelPadding": 26, "labelFont": "DejaVu Sans", "labelFontSize": 23, "title": "estimated branch current relative error (%)", "titleFont": "Liberation Sans", "titleFontSize": 28.5, "titleX": -96, "titleY": 280, "titleBaseline": "top", "titleAngle": -90}},
        "color": {"field": "k", "type": "ordinal", "scale": {"range": ["#0072BD","#D95319","#EDB120","#7E2F8E","#77AC30","#4DBEEE","#A2142F"]}, "legend": null},
        "strokeWidth": {"condition": {"test": "datum.k < 4", "value": 2.6}, "value": 2}
      }
    },
    {
      "data": {"values": [{"x": 0, "y": 0.2}]},
      "mark": {"type": "point", "opacity": 0},
      "encoding": {
        "x": {"field": "x", "type": "quantitative", "axis": {"orient": "top", "values": [0,5,10,15,20,25,30,35], "tickSize": -10, "labels": false, "title": null}},
        "y": {"field": "y", "type": "quantitative", "axis": {"orient": "right", "values": [0.2,0.3,0.4,0.5,0.6,0.7,0.8,0.9], "tickSize": -10, "labels": false, "title": null}}
      }
    }
  ],
  "resolve": {"axis": {"x": "independent", "y": "independent"}}
}
